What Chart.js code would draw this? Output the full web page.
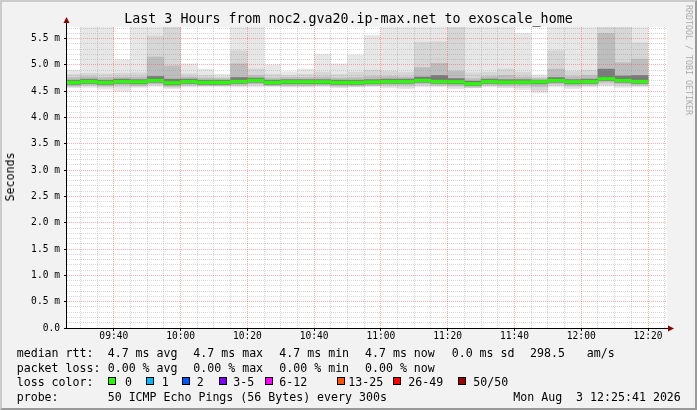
<!DOCTYPE html>
<html>
<head>
<meta charset="utf-8">
<script src="https://cdn.jsdelivr.net/npm/chart.js@4"></script>
<style>
html, body { margin: 0; padding: 0; background: #f2f2f2; overflow: hidden; }
#wrap { position: relative; width: 697px; height: 410px; font-family: 'DejaVu Sans Mono', monospace; color: #000; }
#wrap canvas { position: absolute; left: 0; top: 0; }
.t { position: absolute; white-space: pre; font-size: 11.6px; line-height: 14px; }
.box { position: absolute; width: 6px; height: 6px; border: 1px solid #000; }
#title { position: absolute; left: 0; top: 11px; width: 697px; text-align: center; font-size: 13.3px; line-height: 16px; white-space: pre; }
#ylab { position: absolute; left: 10px; top: 177px; transform: translate(-50%, -50%) rotate(-90deg); font-size: 11.6px; white-space: pre; }
#credit { position: absolute; left: 689px; top: 60px; transform: translate(-50%, -50%) rotate(90deg); font-size: 8.3px; color: #aaa; white-space: pre; }
#frame { position: absolute; left: 0; top: 0; width: 693px; height: 406px; border: 2px solid; border-color: #cbcbcb #999 #999 #cbcbcb; pointer-events: none; }
</style>
</head>
<body>
<div id="wrap">
  <canvas id="chart" width="697" height="410"></canvas>
  <div id="title">Last 3 Hours from noc2.gva20.ip-max.net to exoscale_home</div>
  <div id="ylab">Seconds</div>
  <div id="credit">RRDTOOL / TOBI OETIKER</div>
  <div id="frame"></div>
</div>
<script>
// 5 minute slots, labelled by their end time
const slotEnds = ['09:30','09:35','09:40','09:45','09:50','09:55','10:00','10:05','10:10','10:15',
                  '10:20','10:25','10:30','10:35','10:40','10:45','10:50','10:55','11:00','11:05',
                  '11:10','11:15','11:20','11:25','11:30','11:35','11:40','11:45','11:50','11:55',
                  '12:00','12:05','12:10','12:15','12:20'];

// rtt in ms
const rttMedian = [4.665,4.685,4.665,4.684,4.678,4.703,4.659,4.684,4.665,4.665,
                   4.684,4.703,4.665,4.678,4.678,4.678,4.665,4.665,4.675,4.684,
                   4.684,4.703,4.684,4.678,4.640,4.684,4.672,4.672,4.678,4.703,
                   4.678,4.684,4.735,4.703,4.684];
const rttMin = [4.57,4.57,4.54,4.50,4.57,4.59,4.55,4.58,4.59,4.59,
                4.58,4.58,4.59,4.58,4.58,4.59,4.57,4.58,4.59,4.56,
                4.55,4.58,4.58,4.55,4.56,4.58,4.56,4.53,4.47,4.58,
                4.55,4.58,4.60,4.57,4.58];
const rttP10 = [4.58,4.60,4.58,4.58,4.59,4.62,4.57,4.60,4.60,4.60,
                4.60,4.62,4.60,4.59,4.59,4.60,4.58,4.59,4.60,4.59,
                4.58,4.61,4.60,4.58,4.57,4.60,4.58,4.57,4.52,4.61,
                4.58,4.60,4.63,4.60,4.60];
const rttP25 = [4.60,4.62,4.60,4.62,4.61,4.64,4.59,4.62,4.61,4.61,
                4.62,4.64,4.61,4.61,4.61,4.62,4.60,4.60,4.61,4.62,
                4.62,4.64,4.62,4.61,4.58,4.62,4.61,4.61,4.59,4.64,
                4.61,4.62,4.67,4.64,4.62];
const rttP40 = [4.63,4.65,4.63,4.65,4.64,4.67,4.62,4.65,4.63,4.63,
                4.65,4.67,4.63,4.64,4.64,4.64,4.63,4.63,4.64,4.65,
                4.65,4.67,4.65,4.64,4.61,4.65,4.64,4.64,4.64,4.67,
                4.64,4.65,4.70,4.67,4.65];
const rttP60 = [4.71,4.73,4.71,4.73,4.72,4.78,4.73,4.73,4.71,4.71,
                4.76,4.75,4.71,4.72,4.72,4.72,4.71,4.71,4.72,4.73,
                4.73,4.77,4.80,4.74,4.69,4.73,4.72,4.72,4.71,4.76,
                4.72,4.73,4.92,4.79,4.80];
const rttP75 = [4.76,4.78,4.76,4.77,4.77,5.15,4.98,4.77,4.75,4.74,
                5.02,4.80,4.75,4.76,4.76,4.77,4.75,4.76,4.78,4.78,
                4.77,4.95,5.03,4.88,4.74,4.78,4.80,4.77,4.74,4.92,
                4.78,4.80,5.60,5.04,5.11];
const rttP90 = [4.82,4.84,4.83,4.84,4.85,5.55,5.72,4.83,4.80,4.77,
                5.27,4.92,4.82,4.80,4.82,4.86,4.82,4.86,4.90,4.88,
                4.86,5.43,5.44,5.75,4.85,4.86,4.92,4.86,4.77,5.27,
                4.88,4.90,5.80,5.75,5.42];
const rttMax = [4.90,5.90,5.90,5.10,5.90,5.90,5.95,5.02,4.92,4.82,
                5.90,5.90,5.00,4.87,4.92,5.20,5.02,5.19,5.56,5.90,
                5.90,5.90,5.90,5.95,5.90,5.90,5.90,5.60,4.81,5.90,
                5.90,5.90,5.95,5.95,5.90];

const xTickLabels = ['09:40','10:00','10:20','10:40','11:00','11:20','11:40','12:00','12:20'];
const yTickLabels = ['0.0','0.5 m','1.0 m','1.5 m','2.0 m','2.5 m','3.0 m','3.5 m','4.0 m','4.5 m','5.0 m','5.5 m'];
const lossLabels = ['0','1','2','3-5','6-12','13-25','26-49','50/50'];
const lossColors = ['#26ff00','#00b8ff','#0059ff','#7e00ff','#ff00ff','#ff5500','#ff0000','#a10000'];

const viewStart = '09:25:41';
const viewEnd = '12:25:41';
const yTop = 5.72;

function toMin(s) {
    const p = s.split(':').map(Number);
    return p[0] * 60 + p[1] + (p[2] || 0) / 60;
}

const SLOT = 5;
const MEDIAN_HALF = 0.025;
const minorGrid = 'rgba(150,150,150,0.38)';
const majorGrid = 'rgba(255,60,60,0.42)';

function bandData(lo, hi) {
    return slotEnds.map((t, i) => ({ x: toMin(t) - SLOT / 2, y: [lo[i], hi[i]] }));
}
function band(lo, hi, color, order) {
    return { data: bandData(lo, hi), backgroundColor: color, order: order, clip: 0 };
}

const isMajorX = v => xTickLabels.some(l => Math.abs(toMin(l) - v) < 1e-6);
const isMajorY = v => Math.abs(v * 2 - Math.round(v * 2)) < 1e-6;

// plot canvas + axis arrows
const plotBg = {
    id: 'plotBg',
    beforeDraw(chart) {
        const { ctx, chartArea: a } = chart;
        ctx.save();
        ctx.fillStyle = '#fff';
        ctx.fillRect(a.left, a.top, a.right - a.left, a.bottom - a.top);
        ctx.restore();
    },
    afterDraw(chart) {
        const { ctx, chartArea: a } = chart;
        const ax = Math.round(a.left) + 0.5, ay = Math.round(a.bottom) + 0.5;
        ctx.save();
        ctx.strokeStyle = '#000';
        ctx.lineWidth = 1;
        ctx.beginPath();
        ctx.moveTo(ax, a.top); ctx.lineTo(ax, a.top - 4);
        ctx.moveTo(a.right, ay); ctx.lineTo(a.right + 1, ay);
        ctx.stroke();
        ctx.fillStyle = '#8b0000';
        ctx.beginPath();
        ctx.moveTo(ax - 3, a.top - 4); ctx.lineTo(ax + 3, a.top - 4); ctx.lineTo(ax, a.top - 10);
        ctx.closePath(); ctx.fill();
        ctx.beginPath();
        ctx.moveTo(a.right + 1, ay - 3); ctx.lineTo(a.right + 1, ay + 3); ctx.lineTo(a.right + 7, ay);
        ctx.closePath(); ctx.fill();
        ctx.restore();
    }
};

const tickFont = { family: 'DejaVu Sans Mono', size: 9.6 };

new Chart(document.getElementById('chart'), {
    type: 'bar',
    data: {
        datasets: [
            { data: slotEnds.map((t, i) => ({ x: toMin(t) - SLOT / 2, y: [rttMedian[i] - MEDIAN_HALF, rttMedian[i] + MEDIAN_HALF] })),
              backgroundColor: lossColors[0], order: 0, clip: 0 },
            band(rttP40, rttP60, '#7a7a7a', 1),
            band(rttP25, rttP75, '#bdbdbd', 2),
            band(rttP10, rttP90, '#d6d6d6', 3),
            band(rttMin, rttMax, '#e7e7e7', 4)
        ]
    },
    options: {
        responsive: false,
        animation: false,
        events: [],
        layout: { padding: { left: 0, top: 27, right: 30, bottom: 62 } },
        datasets: {
            bar: { grouped: false, barPercentage: 1, categoryPercentage: 1, borderWidth: 0 }
        },
        plugins: { legend: { display: false }, tooltip: { enabled: false }, title: { display: false } },
        scales: {
            x: {
                type: 'linear',
                min: toMin(viewStart),
                max: toMin(viewEnd),
                bounds: 'data',
                offset: false,
                afterFit: s => { s.height = 20; },
                afterBuildTicks: s => {
                    const ticks = [];
                    for (let v = Math.ceil(s.min / SLOT) * SLOT; v < s.max; v += SLOT) ticks.push({ value: v });
                    s.ticks = ticks;
                },
                ticks: {
                    autoSkip: false, maxRotation: 0, padding: 0, color: '#000', font: tickFont,
                    callback: v => {
                        const l = xTickLabels.find(l => Math.abs(toMin(l) - v) < 1e-6);
                        return l || '';
                    }
                },
                grid: {
                    z: 1, offset: false, tickLength: 3,
                    color: c => (c.tick && isMajorX(c.tick.value)) ? majorGrid : minorGrid,
                    tickColor: c => (c.tick && isMajorX(c.tick.value)) ? '#000' : 'rgba(0,0,0,0)'
                },
                border: { color: '#000', width: 1, z: 2, dash: [1, 1] }
            },
            y: {
                min: 0,
                max: yTop,
                bounds: 'data',
                afterFit: s => { s.width = 66; },
                afterBuildTicks: s => {
                    const ticks = [];
                    for (let i = 0; i / 10 <= s.max + 1e-9; i++) ticks.push({ value: i / 10 });
                    s.ticks = ticks;
                },
                ticks: {
                    autoSkip: false, padding: 4, color: '#000', font: tickFont,
                    callback: v => isMajorY(v) ? yTickLabels[Math.round(v * 2)] : ''
                },
                grid: {
                    z: 1, tickLength: 2,
                    color: c => (c.tick && isMajorY(c.tick.value)) ? majorGrid : minorGrid,
                    tickColor: c => (c.tick && isMajorY(c.tick.value)) ? '#000' : 'rgba(0,0,0,0)'
                },
                border: { color: '#000', width: 1, z: 2, dash: [1, 1] }
            }
        }
    },
    plugins: [plotBg]
});

// legend below the graph
const wrap = document.getElementById('wrap');
const rowY = [353, 368, 381.5, 396.5];
const legendRows = [
    [['median rtt:', 16.7], ['4.7 ms avg', 107.7], ['4.7 ms max', 193.3], ['4.7 ms min', 279.3],
     ['4.7 ms now', 365], ['0.0 ms sd', 451.7], ['298.5', 530], ['am/s', 586.7]],
    [['packet loss:', 16.7], ['0.00 % avg', 107.7], ['0.00 % max', 193.3], ['0.00 % min', 279.3], ['0.00 % now', 365]],
    [['loss color:', 16.7]],
    [['probe:', 16.7], ['50 ICMP Echo Pings (56 Bytes) every 300s', 107.7], ['Mon Aug  3 12:25:41 2026', 513.3]]
];
const lossBoxX = [108, 145.5, 181.5, 218.5, 264.5, 337, 393, 458];
const lossTextX = [125, 161.7, 196.7, 233.3, 279.3, 348.3, 408.3, 473.3];

function addText(txt, x, yc) {
    const d = document.createElement('div');
    d.className = 't';
    d.textContent = txt;
    d.style.left = x + 'px';
    d.style.top = (yc - 7) + 'px';
    wrap.insertBefore(d, document.getElementById('frame'));
}
legendRows.forEach((row, r) => row.forEach(([txt, x]) => addText(txt, x, rowY[r])));
lossLabels.forEach((l, i) => {
    const b = document.createElement('div');
    b.className = 'box';
    b.style.left = lossBoxX[i] + 'px';
    b.style.top = (rowY[2] - 4.5) + 'px';
    b.style.background = lossColors[i];
    wrap.insertBefore(b, document.getElementById('frame'));
    addText(l, lossTextX[i], rowY[2]);
});
</script>
</body>
</html>
